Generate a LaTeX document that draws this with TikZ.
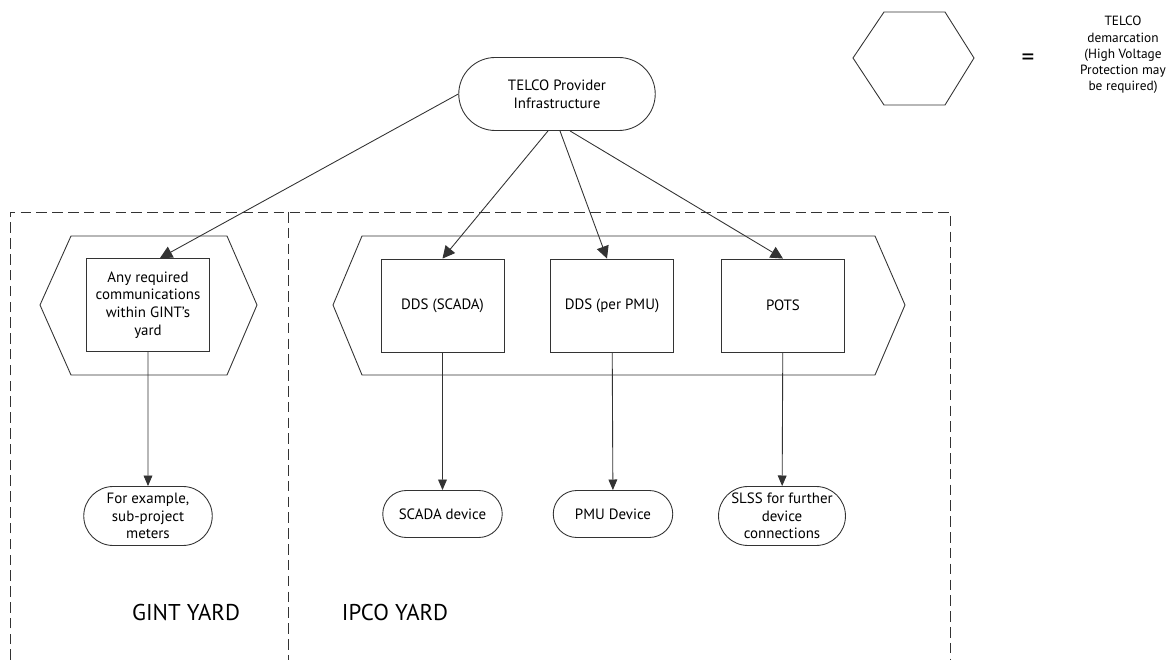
\documentclass[tikz,border=0pt]{standalone}
\usepackage{fontspec}
\setmainfont{PT Sans}
\usetikzlibrary{arrows.meta,shapes.misc}

\begin{document}
\begin{tikzpicture}[
    line/.style={draw=black!80, line width=0.5pt},
    pill/.style={line, rounded rectangle, inner xsep=1pt, align=center, font=\fontsize{8.5}{10}\selectfont},
    commbox/.style={line, rectangle, minimum width=2.46cm, minimum height=1.86cm, align=center, font=\fontsize{8.5}{10}\selectfont},
    link/.style={line, -{Triangle[length=7pt,width=7pt]}},
    drop/.style={line, -{Triangle[length=6pt,width=5pt]}},
    yard/.style={font=\fontsize{13}{15}\selectfont}
  ]
  \useasboundingbox (0,0) rectangle (23.34,-13.2);

  % Legend
  \draw[line] (17.06,-1.16) -- (17.68,-0.24) -- (18.9,-0.24) -- (19.48,-1.16)
              -- (18.9,-2.1) -- (17.68,-2.1) -- cycle;
  \node (eq) at (20.56,-1.2) {\Large =};
  \node[align=center, inner sep=0pt, font=\fontsize{7.6}{9.2}\selectfont] (legend) at (22.46,-1.1)
    {TELCO\\demarcation\\(High Voltage\\Protection may\\be required)};

  % Yards
  \draw[line, dash pattern=on 6pt off 3pt] (0.2,-13.2) -- (0.2,-4.24) -- (19,-4.24) -- (19,-13.2);
  \draw[line, dash pattern=on 6pt off 3pt] (5.76,-4.24) -- (5.76,-13.2);
  \node[yard] (gint) at (3.72,-12.26) {GINT YARD};
  \node[yard] (ipco) at (7.9,-12.26) {IPCO YARD};

  % Demarcation hexagons
  \draw[line] (0.8,-6.1) -- (1.42,-4.72) -- (4.54,-4.72) -- (5.14,-6.1)
              -- (4.54,-7.5) -- (1.42,-7.5) -- cycle;
  \draw[line] (6.66,-6.1) -- (7.24,-4.72) -- (17.5,-4.72) -- (18.1,-6.1)
              -- (17.5,-7.5) -- (7.24,-7.5) -- cycle;

  % Nodes
  \node[pill, minimum width=4cm, minimum height=1.46cm] (telco) at (11.14,-1.88) {TELCO Provider\\Infrastructure};
  \node[commbox] (anyreq) at (2.96,-6.1) {Any required\\communications\\within GINT's\\yard};
  \node[commbox] (ddsscada) at (8.85,-6.11) {DDS (SCADA)};
  \node[commbox] (ddspmu) at (12.24,-6.11) {DDS (per PMU)};
  \node[commbox] (pots) at (15.66,-6.11) {POTS};
  \node[pill, minimum width=2.64cm, minimum height=1.18cm] (meters) at (2.96,-10.32) {For example,\\sub-project\\meters};
  \node[pill, minimum width=2.46cm, minimum height=0.94cm] (scadadev) at (8.85,-10.28) {SCADA device};
  \node[pill, minimum width=2.46cm, minimum height=0.94cm] (pmudev) at (12.26,-10.28) {PMU Device};
  \node[pill, minimum width=2.44cm, minimum height=1.18cm] (slss) at (15.64,-10.32) {SLSS for further\\device\\connections};

  % Connections
  \draw[link] (telco.west) -- ([xshift=0.24cm]anyreq.north);
  \draw[link] ([xshift=-0.18cm]telco.south) -- (ddsscada.north);
  \draw[link] ([xshift=0.06cm]telco.south) -- ([xshift=-0.1cm]ddspmu.north);
  \draw[link] ([xshift=0.26cm]telco.south) -- (pots.north);
  \draw[drop] (anyreq) -- (meters);
  \draw[drop] (ddsscada) -- (scadadev);
  \draw[drop] (ddspmu) -- (pmudev);
  \draw[drop] (pots) -- (slss);
\end{tikzpicture}
\end{document}
